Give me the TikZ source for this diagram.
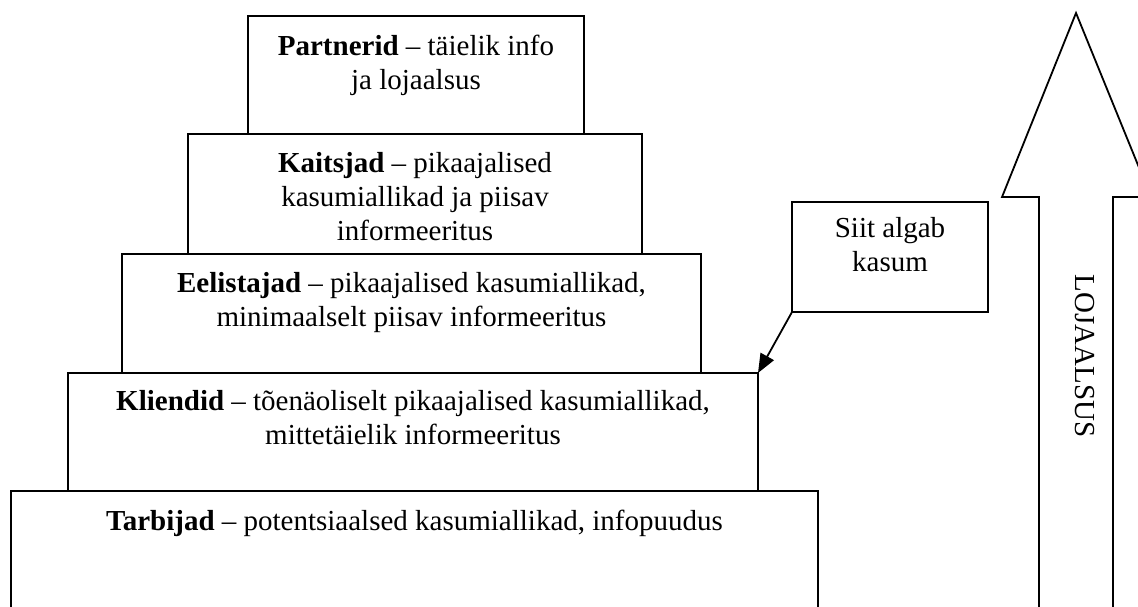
\documentclass[tikz,border=0pt]{standalone}
\usepackage{fontspec}
\setmainfont{Liberation Serif}
\usetikzlibrary{arrows.meta,calc}
\begin{document}
\begin{tikzpicture}[x=0.5pt,y=-0.5pt,
  tier/.style={draw, line width=0.9pt, rectangle, inner sep=0pt, outer sep=0pt},
  tiertext/.style={anchor=north, inner sep=0pt, align=center,
    font=\fontsize{14.5}{17}\selectfont},
  pointer/.style={line width=0.9pt, -{Triangle[length=9.5pt,width=7.5pt]}},
]
\useasboundingbox (0,0) rectangle (1138,606);
\clip (0,0) rectangle (1138,606);

% stepped pyramid of customer levels (bottom to top)
\node[tier, minimum width=403.5pt, minimum height=79.5pt] (tarbijad)   at (414.5,570.5) {};
\node[tier, minimum width=345pt,   minimum height=59pt]   (kliendid)   at (413,432) {};
\node[tier, minimum width=289.5pt, minimum height=59.5pt] (eelistajad) at (411.5,313.5) {};
\node[tier, minimum width=227pt,   minimum height=60pt]   (kaitsjad)   at (415,194) {};
\node[tier, minimum width=168pt,   minimum height=59pt]   (partnerid)  at (416,75) {};

\node[tiertext] (tTarbijad) at ($(tarbijad.north)+(0,15)$)
  {\strut\textbf{Tarbijad} – potentsiaalsed kasumiallikad, infopuudus};
\node[tiertext] (tKliendid) at ($(kliendid.north)+(0,13)$)
  {\strut\textbf{Kliendid} – tõenäoliselt pikaajalised kasumiallikad,\\mittetäielik informeeritus};
\node[tiertext] (tEelistajad) at ($(eelistajad.north)+(0,14)$)
  {\strut\textbf{Eelistajad} – pikaajalised kasumiallikad,\\minimaalselt piisav informeeritus};
\node[tiertext] (tKaitsjad) at ($(kaitsjad.north)+(0,14)$)
  {\strut\textbf{Kaitsjad} – pikaajalised\\kasumiallikad ja piisav\\informeeritus};
\node[tiertext] (tPartnerid) at ($(partnerid.north)+(0,15)$)
  {\strut\textbf{Partnerid} – täielik info\\ja lojaalsus};

% callout where profit begins
\node[tier, minimum width=98pt, minimum height=55pt] (callout) at (890,257) {};
\node[tiertext] (tCallout) at ($(callout.north)+(0,11)$) {\strut Siit algab\\kasum};
\draw[pointer] (callout.south west) -- (kliendid.north east);

% big upward loyalty arrow
\draw[line width=0.9pt] (1076,13) coordinate (tip)
  -- (1002,197) -- (1039,197) -- (1039,650)
  -- (1113,650) -- (1113,197) -- (1151,197) -- cycle;
\node[rotate=-90, inner sep=0pt, font=\fontsize{14.5}{17}\selectfont] (loyalty)
  at (1085,356) {LOJAALSUS};
\end{tikzpicture}
\end{document}
